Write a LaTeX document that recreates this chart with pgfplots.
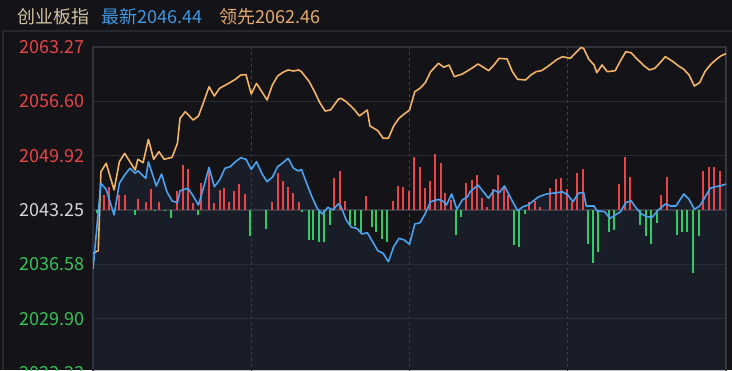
\documentclass[border=0pt]{standalone}
\usepackage{fontspec}
\setmainfont{Noto Sans CJK SC}
\usepackage{pgfplots}
\usepackage{pgfplotstable}
\pgfplotsset{compat=1.18}
\definecolor{bg}{HTML}{131318}
\definecolor{panelc}{HTML}{26262D}
\definecolor{hdr}{HTML}{D2C2A4}
\definecolor{cblue}{HTML}{4BA3F0}
\definecolor{tblue}{HTML}{3F97E2}
\definecolor{corange}{HTML}{F3B463}
\definecolor{torange}{HTML}{E6AA6C}
\definecolor{cred}{HTML}{E8454B}
\definecolor{cgreen}{HTML}{2FCB66}
\definecolor{lred}{HTML}{E8454A}
\definecolor{lgreen}{HTML}{35C35A}
\definecolor{lwhite}{HTML}{D6D6D6}
\definecolor{gridh}{HTML}{2A2B33}
\definecolor{gridv}{HTML}{3D4255}
\definecolor{borderc}{HTML}{30313A}
\definecolor{rborder}{HTML}{3A3D4A}
\definecolor{basec}{HTML}{3A3846}
\definecolor{fillc}{HTML}{2A3550}

\pgfplotstableread{
m p
0 2037.93
2 2038.25
3 2047.95
5 2048.99
8 2045.71
10 2049.18
12 2050.21
14 2049.18
16 2048.16
17 2049.48
19 2049.06
21 2051.93
23 2049.48
25 2050.41
27 2049.48
30 2049.72
32 2051.44
33 2054.51
35 2055.32
38 2054.30
40 2054.80
42 2056.55
44 2058.39
46 2057.25
48 2058.20
51 2058.73
54 2059.30
56 2059.83
58 2059.87
60 2057.50
62 2058.81
64 2057.78
66 2056.76
68 2058.60
70 2059.71
72 2060.16
74 2060.45
76 2060.32
78 2060.45
79 2060.24
82 2059.01
84 2057.78
86 2056.43
88 2055.41
90 2055.53
91 2055.94
93 2056.85
94 2056.97
96 2056.55
99 2055.62
101 2054.80
104 2055.53
105 2053.57
108 2052.99
110 2052.06
112 2052.06
114 2053.57
116 2054.51
118 2055.04
120 2055.53
122 2057.78
124 2058.20
126 2058.89
128 2060.24
131 2061.27
133 2060.78
135 2061.06
137 2059.62
140 2059.95
143 2060.53
146 2061.18
148 2060.78
150 2060.36
152 2061.06
154 2061.88
157 2061.80
159 2060.24
161 2059.30
164 2059.22
166 2059.83
168 2060.24
170 2060.36
172 2060.78
174 2061.27
176 2061.76
178 2062.08
181 2061.88
183 2062.57
185 2063.20
186 2063.11
188 2061.76
190 2061.06
191 2060.11
193 2061.06
195 2060.24
198 2060.36
200 2061.59
202 2062.69
204 2062.57
206 2061.88
209 2060.94
211 2060.45
213 2060.65
215 2061.34
217 2062.08
220 2061.46
222 2060.94
224 2060.53
226 2059.83
228 2058.48
230 2058.89
232 2060.24
234 2061.06
236 2061.67
238 2062.16
240 2062.46
}\leadtab

\pgfplotstableread{
m p
0 2036.00
3 2046.53
5 2045.79
8 2042.64
10 2046.53
12 2047.55
14 2048.37
16 2047.76
17 2048.08
20 2047.14
21 2049.18
24 2046.20
26 2047.67
28 2045.50
30 2044.36
32 2044.15
33 2045.62
36 2045.92
38 2044.97
40 2043.86
42 2046.11
44 2048.49
46 2046.11
48 2046.94
50 2048.37
52 2048.57
54 2049.18
56 2049.67
58 2049.48
60 2048.25
62 2049.18
64 2047.76
66 2046.73
68 2047.27
70 2048.57
72 2049.06
74 2049.60
76 2048.37
78 2048.04
79 2048.25
81 2046.53
83 2044.88
85 2043.46
87 2042.76
89 2043.58
91 2043.25
93 2044.00
94 2043.70
96 2042.02
98 2041.13
100 2041.01
102 2040.30
104 2040.46
106 2039.36
108 2038.25
110 2037.93
112 2036.90
114 2038.74
116 2039.77
118 2039.57
120 2039.04
122 2041.53
124 2041.69
126 2042.84
128 2044.27
131 2044.56
133 2044.27
134 2043.86
136 2045.22
138 2043.34
140 2044.48
142 2044.88
143 2045.50
146 2046.32
148 2045.50
150 2044.69
152 2045.71
154 2045.38
156 2046.20
158 2044.97
160 2043.74
161 2043.16
163 2043.65
165 2043.86
167 2044.39
169 2044.88
172 2045.22
174 2045.30
176 2045.38
178 2045.50
180 2045.09
182 2044.27
184 2045.30
186 2045.42
187 2043.74
190 2043.74
191 2043.16
194 2043.04
196 2042.23
198 2042.64
200 2043.04
202 2044.15
204 2044.39
206 2043.46
208 2042.76
210 2042.43
212 2042.35
214 2043.16
217 2043.99
219 2043.74
221 2043.74
224 2045.22
226 2044.56
228 2043.34
230 2043.74
232 2044.81
234 2045.92
236 2046.11
238 2046.23
240 2046.44
}\lasttab

\pgfplotsset{
  basechart/.style={
    scale only axis, width=316.5pt, height=163pt,
    at={(46.5pt,-1.5pt)}, anchor=south west,
    xmin=0, xmax=240,
  },
}

\begin{document}
\begin{tikzpicture}
\path[use as bounding box] (0,0) rectangle (366pt,185pt);
\clip (0,0) rectangle (366pt,185pt);
\fill[bg] (0,0) rectangle (366pt,185pt);
\draw[panelc, line width=0.6pt] (1.5pt,0) -- (1.5pt,169.5pt) -- (366pt,169.5pt);

\node[anchor=west, inner sep=0pt, font=\fontsize{9pt}{10pt}\selectfont, text=hdr] at (8.5pt,176.8pt) {创业板指};
\node[anchor=west, inner sep=0pt, font=\fontsize{9pt}{10pt}\selectfont, text=tblue] at (50.5pt,176.8pt) {最新2046.44};
\node[anchor=west, inner sep=0pt, font=\fontsize{9pt}{10pt}\selectfont, text=torange] at (109.5pt,176.8pt) {领先2062.46};

% Axis A: frame, grid, fill
\begin{axis}[basechart,
  ymin=2023.23, ymax=2063.27,
  ytick={2023.23,2029.90,2036.58,2043.25,2049.92,2056.60,2063.27},
  yticklabels={\textcolor{lgreen}{2023.23},\textcolor{lgreen}{2029.90},\textcolor{lgreen}{2036.58},\textcolor{lwhite}{2043.25},\textcolor{lred}{2049.92},\textcolor{lred}{2056.60},\textcolor{lred}{2063.27}},
  xtick={60,120,180}, xticklabels={,,},
  xmajorgrids, ymajorgrids,
  major tick length=0pt,
  x grid style={gridv, dash pattern=on 1.5pt off 1.5pt, line width=0.6pt},
  y grid style={gridh, line width=0.75pt},
  axis line style={draw=borderc, line width=0.6pt},
  yticklabel style={font=\fontsize{9pt}{10pt}\selectfont, inner sep=0pt, xshift=-4pt},
]
\addplot[draw=none, fill=fillc, fill opacity=0.3] table[x=m, y=p] {\lasttab} \closedcycle;
\draw[basec, line width=0.9pt] (axis cs:0,2043.25) -- (axis cs:240,2043.25);
\draw[rborder, line width=1.2pt] (axis cs:240,2023.23) -- (axis cs:240,2063.27);
\end{axis}

% Axis B: red / green columns (pixel-height units, baseline = 2043.25)
\begin{axis}[basechart, ymin=-163, ymax=163, hide axis]
\addplot[ycomb, cred, line width=1pt, mark=none] coordinates {
(4,15.3) (6,22.7) (10,15.3) (12,15.3) (17,11) (20,7.7) (22,21) (25,7.7)
(32,18.7) (34,45) (36,41) (38,6.7) (41,27) (44,41) (46,6.7) (48,20) (49.5,21.7)
(51.5,7.7) (53.5,18.7) (55.5,26.3) (57.5,16.3) (68,7.7) (70,36.7) (72,29.3)
(74,23.3) (75.8,17.3) (78,7.7) (91.5,32) (93.6,39.3) (95.4,9.3) (103.5,14.3)
(113.7,9.3) (115.5,24.3) (117.5,23.3) (119.7,19.3) (121.7,53.3) (123.9,42.7)
(125.8,22) (127.9,29.3) (129.8,56) (131.8,46.7) (133.6,16.7) (135.9,10)
(141.5,27) (143.7,30) (145.6,35) (147.6,12) (149.4,2.7) (151.7,21) (153.6,35)
(155.7,22.7) (157.3,15.3) (165.3,7.7) (167.5,9.3) (169.6,2.7) (173.4,21.7)
(175.4,30.7) (177.3,32) (179.7,21) (181.7,7.7) (183.5,36.7) (185.8,41)
(199.4,26) (201.8,53.3) (203.5,33.3) (215.2,15.3) (217.6,32.7)
(231.3,39.3) (233.4,42.7) (235.3,42.7) (237.6,39.3)
};
\addplot[ycomb, cgreen, line width=1pt, mark=none] coordinates {
(1.6,-3.3) (15.8,-4.7) (23.6,-1.3) (27.4,-1.3) (29.5,-8.3) (39.8,-4.7)
(59.4,-25.7) (65.7,-19) (79.4,-2.3) (81.8,-30.5) (83.4,-30.5) (85.7,-32)
(87.6,-32) (89.9,-15.3) (97.6,-16.2) (99.5,-16) (101.5,-23) (105.6,-17)
(107.4,-22) (109.6,-28.7) (111.5,-32) (137.5,-25.5) (139.7,-7)
(159.5,-35) (161.4,-36.7) (163.7,-4) (187.5,-33.7) (189.7,-52.7) (191.4,-42.5)
(195.5,-22) (197.7,-20.3) (207.3,-15.3) (209.5,-26.3) (211.5,-33.7) (213.7,-13)
(221.6,-24.8) (223.3,-22) (225.3,-22) (227.4,-63.3) (229.6,-26.3)
};
\end{axis}

% Axis C: lines
\begin{axis}[basechart, ymin=2023.23, ymax=2063.27, hide axis]
\addplot[corange, line width=0.8pt, line join=round, mark=none] table[x=m, y=p] {\leadtab};
\addplot[cblue, line width=0.8pt, line join=round, mark=none] table[x=m, y=p] {\lasttab};
\end{axis}
\end{tikzpicture}
\end{document}
